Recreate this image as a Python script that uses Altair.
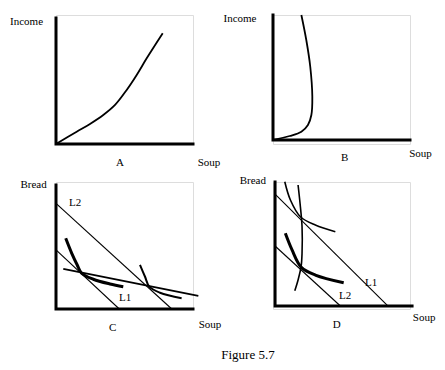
import altair as alt
import pandas as pd

FONT = "Liberation Serif"

# ---------- Panel A : Income vs Soup ----------
a_curve_x = [0, 1.51, 2.48, 3.45, 4.31, 5.16, 5.89, 6.62, 7.79]
a_curve_y = [0, 0.98, 1.59, 2.30, 3.10, 4.29, 5.48, 6.80, 8.79]

# ---------- Panel B : Income vs Soup ----------
b_curve_x = [0, 1.22, 2.07, 2.55, 2.80, 2.87, 2.72, 2.43, 2.07]
b_curve_y = [0, 0.32, 0.66, 1.20, 2.00, 3.46, 5.86, 8.00, 10.0]

# ---------- Panel C : Bread vs Soup ----------
c_l2_x, c_l2_y = [0, 8.45], [8.52, 0]
c_l1_x, c_l1_y = [0, 4.62], [4.76, 0]
c_ic1_x = [0.71, 1.15, 1.55, 1.87, 2.72, 3.94, 4.91]
c_ic1_y = [5.70, 4.49, 3.55, 2.88, 2.40, 2.02, 1.80]
c_comp_x, c_comp_y = [0.53, 10.39], [3.23, 1.05]
c_ic2_x = [6.13, 6.50, 6.81, 7.59, 9.17]
c_ic2_y = [3.55, 2.60, 1.80, 1.31, 0.86]

# ---------- Panel D : Bread vs Soup ----------
d_l1_x, d_l1_y = [0, 8.25], [9.03, 0]
d_l2_x, d_l2_y = [0, 4.77], [4.84, 0]
d_icu_x = [0.71, 1.12, 1.85, 2.94, 4.40]
d_icu_y = [10.02, 8.55, 7.20, 6.53, 5.99]
d_icl_x = [0.75, 1.24, 1.92, 2.94, 5.01]
d_icl_y = [5.86, 4.52, 3.12, 2.50, 1.88]
d_v_x = [1.68, 1.85, 1.97, 1.97, 1.90, 1.68, 1.44]
d_v_y = [9.76, 8.00, 6.40, 4.25, 3.17, 2.10, 1.23]

axis_x = [0, 0, 10]
axis_y = [10, 0, 0]

labels_a = ["Income", "Soup", "A"]
labels_b = ["Income", "Soup", "B"]
labels_c = ["Bread", "L2", "L1", "Soup", "C"]
labels_d = ["Bread", "L1", "L2", "Soup", "D"]
caption = "Figure 5.7"


def curves_df(curves):
    rows = []
    for cid, (xs, ys, w) in enumerate(curves):
        for i, (x, y) in enumerate(zip(xs, ys)):
            rows.append({"x": x, "y": y, "id": cid, "o": i, "w": w})
    return pd.DataFrame(rows)


def panel(curves, labels, label_pos, xdom, ydom, width, height, extra_text=None):
    xs = alt.Scale(domain=xdom, nice=False, zero=False)
    ys = alt.Scale(domain=ydom, nice=False, zero=False)
    axes = alt.Chart(pd.DataFrame({"x": axis_x, "y": axis_y, "o": [0, 1, 2]})).mark_line(
        color="black", strokeWidth=3, strokeCap="square", strokeJoin="miter"
    ).encode(
        x=alt.X("x:Q", scale=xs, axis=None),
        y=alt.Y("y:Q", scale=ys, axis=None),
        order="o:Q",
    )
    lines = alt.Chart(curves_df(curves)).mark_line(
        color="black", interpolate="catmull-rom"
    ).encode(
        x=alt.X("x:Q", scale=xs, axis=None),
        y=alt.Y("y:Q", scale=ys, axis=None),
        detail="id:N",
        order="o:Q",
        strokeWidth=alt.StrokeWidth("w:Q", scale=None),
    )
    tdf = pd.DataFrame({"t": labels, "x": [p[0] for p in label_pos], "y": [p[1] for p in label_pos]})
    texts = alt.Chart(tdf).mark_text(
        font=FONT, fontSize=11, color="black", align="center", baseline="middle"
    ).encode(
        x=alt.X("x:Q", scale=xs, axis=None),
        y=alt.Y("y:Q", scale=ys, axis=None),
        text="t:N",
    )
    layers = [axes, lines, texts]
    if extra_text is not None:
        edf = pd.DataFrame({"t": [extra_text[0]], "x": [extra_text[1]], "y": [extra_text[2]]})
        layers.append(
            alt.Chart(edf).mark_text(
                font=FONT, fontSize=13, color="black", align="center", baseline="middle"
            ).encode(
                x=alt.X("x:Q", scale=xs, axis=None),
                y=alt.Y("y:Q", scale=ys, axis=None),
                text="t:N",
            )
        )
    return alt.layer(*layers).properties(width=width, height=height)


pa = panel(
    [(a_curve_x, a_curve_y, 1.8)],
    labels_a, [(-2.15, 9.71), (11.17, -1.51), (4.67, -1.51)],
    [0, 10], [0, 10.24], 137, 129,
)
pb = panel(
    [(b_curve_x, b_curve_y, 1.8)],
    labels_b, [(-2.41, 9.68), (10.77, -1.12), (5.23, -1.44)],
    [0, 10], [-0.32, 10], 137, 129,
)
pc = panel(
    [
        (c_l2_x, c_l2_y, 1.1),
        (c_l1_x, c_l1_y, 1.1),
        (c_ic1_x, c_ic1_y, 3),
        (c_comp_x, c_comp_y, 1.8),
        (c_ic2_x, c_ic2_y, 2),
    ],
    labels_c, [(-1.64, 10.0), (1.39, 8.55), (5.04, 0.89), (11.24, -1.29), (4.14, -1.56)],
    [0, 10], [0, 10.24], 137, 127,
    extra_text=(caption, 14.01, -3.71),
)
pd_ = panel(
    [
        (d_l1_x, d_l1_y, 1.1),
        (d_l2_x, d_l2_y, 1.1),
        (d_icu_x, d_icu_y, 1.6),
        (d_icl_x, d_icl_y, 3),
        (d_v_x, d_v_y, 1.6),
    ],
    labels_d, [(-1.62, 10.1), (7.01, 1.85), (5.11, 0.81), (10.88, -0.97), (4.5, -1.53)],
    [-0.15, 9.85], [-0.24, 10], 137, 127,
)

# With autosize "none" the composed view has zero intrinsic size, so the padding
# alone sets the canvas (429 x 354 inside the 8px page margin).
chart = alt.concat(
    pa, pb, pc, pd_, columns=2, spacing={"row": 38, "column": 80}, bounds="flush"
).resolve_scale(x="independent", y="independent").properties(
    autosize=alt.AutoSizeParams(type="none"),
    padding={"left": 48, "top": 7, "right": 381, "bottom": 347},
).configure_view(stroke=None).configure(background="white")

chart.save("out.html", embed_options={"renderer": "svg", "actions": False})
